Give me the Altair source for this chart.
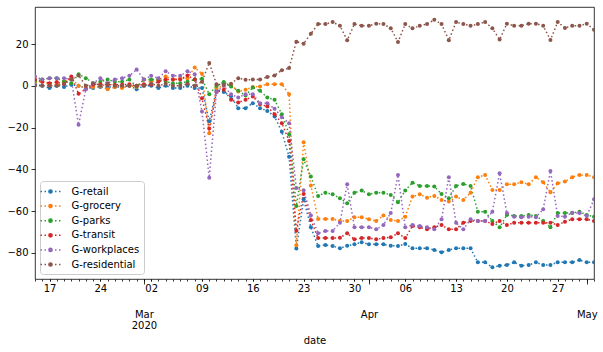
import altair as alt
import pandas as pd

dates = pd.date_range("2020-02-15", "2020-05-02", freq="D").strftime("%Y-%m-%dT00:00:00").tolist()

series_names = ["G-retail", "G-grocery", "G-parks", "G-transit", "G-workplaces", "G-residential"]
colors = ["#1f77b4", "#ff7f0e", "#2ca02c", "#d62728", "#9467bd", "#8c564b"]

retail = [0.8, 0, -1, 0, -0.5, 0.5, 0, -1, -1, -0.5,
          -0.5, -0.5, -0.5, 0, -1.6, 0, 0, -1, 0, -1,
          -1, 0, -1, -1, -17, -2, -3, -5, -10.7, -10.7,
          -8.3, -10.7, -12, -14.7, -22, -34, -78, -54.4, -67.8, -76.8,
          -76.3, -76.8, -77.9, -76.6, -76, -75, -76, -76, -76, -76.6,
          -76.8, -75.8, -77.9, -77.9, -77.9, -78.7, -79.8, -78.7, -77.9, -77.9,
          -77.9, -84.6, -84.6, -87, -86.2, -85.9, -84.6, -86.2, -85.9, -84.6,
          -85.9, -85.9, -84.6, -84.6, -84.6, -83.5, -84.6, -84.6]
grocery = [1.8, 2, 0.5, 0.5, 1.8, 3.7, 0, -1, -0.5, -0.3,
           -1.6, -0.5, -1, 0, -0.5, 3, 2, 3, 4.5, 3,
           3.7, 3.7, 8.8, 5.8, -22.7, -1, 0, 0.5, -2.7, -1.9,
           -0.5, -0.3, 0.8, 0.8, 0.8, -4, -76.4, -27, -47.8, -63.8,
           -63.8, -63.8, -64.8, -64.8, -63, -63, -64, -64.8, -62.2, -64.3,
           -64.8, -62.7, -53.1, -52, -53.6, -52.8, -54.7, -55.5, -53.1, -54.7,
           -51.2, -43.8, -42.7, -49.9, -49.9, -47.2, -47.2, -46.2, -47.2, -43.8,
           -46.2, -51, -46.7, -45.9, -43.8, -42.7, -42.7, -43.8]
parks = [2.4, 3, 3.7, 3.7, 2, 1.3, 5.6, 3.7, 1.3, 2,
         3, 2, 2, 3, -0.3, 3, 3, 3, 2, 1.3,
         1.3, 2, 3, 3.4, -4, 0, 1.8, -0.3, -2.4, -4.6,
         -0.8, -2.4, -5.6, -6.7, -13.6, -23.2, -57.6, -35.2, -43.5, -52.8,
         -51.2, -52, -53.9, -56.3, -51.2, -50.2, -52, -51.2, -51.2, -52.3,
         -55.8, -50.2, -46.4, -48, -48, -48.3, -51.8, -53.9, -48, -47,
         -48, -60.3, -60.3, -64.8, -67.8, -61.9, -62.4, -62.4, -61.9, -62.4,
         -64.8, -67.8, -61, -61, -61, -60.3, -61.9, -62.7]
transit = [3, 2, 1.3, 1.8, 0.8, 4.5, -3.8, -1.6, 0.5, 0.8,
           0.5, 0.5, 0.5, 0.8, 0, 0.8, 0.5, 2, 3, 3,
           3, 5, 3, -5.9, -20.5, -3, -1.9, -6.7, -8, -6.7,
           -5.1, -8.8, -9.9, -13.6, -17.9, -26.4, -69.5, -51.8, -64.3, -73,
           -73, -73, -72.8, -70.7, -73.6, -73, -73, -73.6, -73, -72.6,
           -70.7, -73, -67.2, -67.8, -68.8, -67.8, -66.7, -68.8, -68.8, -65.6,
           -64.8, -64.8, -64.8, -66.2, -64.8, -66.7, -65.6, -65.6, -65.6, -65.6,
           -65.6, -65.6, -66.7, -65.1, -64, -64, -64, -64.8]
workplaces = [4.5, 3, 3.7, 3.7, 3.7, 3, -18.7, -1.6, 1.3, 3.7,
              1.3, 3, 3.7, 4.8, 7.8, 3, 4.8, 3.7, 7, 4.8,
              4.8, 7, 5.6, -12.3, -44, -3, 0, -4, -5.6, -4,
              -4, -8.3, -8.3, -11, -15, -17.9, -49, -50, -62, -70.7,
              -69.6, -69.6, -65.6, -47.2, -67.8, -67.8, -67.8, -68.8, -66.7, -61,
              -42.7, -67.8, -66.7, -67.2, -67.8, -68.8, -64, -43.8, -65.6, -68.8,
              -64, -64.8, -64.8, -60.3, -41.9, -61, -62.7, -63, -62.7, -63,
              -59.2, -40.8, -62.4, -62.7, -60.8, -61, -62.4, -54.4]
residential = [0, 0, 0, 0, 1, 3, 5, 0, 1, 0,
               1, 0, 0, 0, 0, 0, 1, 0, 1, 0,
               0, 1, 0, 2, 11, 0.8, 0.5, 1, 3.7, 2.9,
               3, 3, 4.3, 5, 7.5, 8.5, 21.2, 20.2, 25, 29.6,
               29.6, 30.6, 28.8, 21.9, 29.6, 28.8, 28.8, 29.8, 29.6, 27.6,
               21, 29.6, 27.6, 28.8, 29.6, 31.7, 29.6, 21.9, 30.6, 29.6,
               28.8, 29.6, 30.6, 27.6, 22.2, 29.8, 28.8, 28.8, 29.8, 29.8,
               28.8, 22, 30.6, 27.7, 28.8, 28.8, 29.8, 26.9]

y_ticks = [-80, -60, -40, -20, 0, 20]
week_ticks = ["2020-02-17", "2020-02-24", "2020-03-02", "2020-03-09", "2020-03-16",
              "2020-03-23", "2020-03-30", "2020-04-06", "2020-04-13", "2020-04-20", "2020-04-27"]
month_ticks = ["2020-03-01", "2020-04-01", "2020-05-01"]

all_series = [retail, grocery, parks, transit, workplaces, residential]
rows = []
for name, vals in zip(series_names, all_series):
    assert len(vals) == len(dates), (name, len(vals))
    for d, v in zip(dates, vals):
        rows.append({"date": d, "series": name, "value": v})
df = pd.DataFrame(rows)


def dt(s):
    y, m, d = [int(p) for p in s.split("-")]
    return alt.DateTime(year=y, month=m, date=d)


xscale = alt.Scale(domain=[dt("2020-02-15"), dt("2020-05-02")], nice=False)

# legend handle: dotted segment with a dot marker (unit = 5 px)
legend_path = ("M-2,0L-1.7,0M-1.2,0L-0.9,0M-0.44,0L-0.24,0M0.24,0L0.44,0"
               "M0.9,0L1.2,0M1.7,0L2,0"
               "M0.32,0A0.32,0.32 0 1,1 -0.32,0A0.32,0.32 0 1,1 0.32,0Z"
               "M0.1,0A0.1,0.1 0 1,1 -0.1,0A0.1,0.1 0 1,1 0.1,0Z")

lines = alt.Chart(df).mark_line(
    strokeDash=[1.5, 2.5], strokeWidth=1.5, clip=True,
    point=alt.OverlayMarkDef(filled=True, size=16, clip=True, opacity=1),
).encode(
    x=alt.X("date:T", scale=xscale,
            axis=alt.Axis(values=[dt(s) for s in week_ticks], format="%d", tickSize=2,
                          labelPadding=2, title="date", titlePadding=42, orient="bottom",
                          grid=False, domain=False, labelFlush=False, labelOverlap=False)),
    y=alt.Y("value:Q", scale=alt.Scale(domain=[-92.6, 37.8], nice=False, zero=False),
            axis=alt.Axis(values=y_ticks, labelExpr="replace(datum.label, '-', '\u2212')",
                          grid=False, tickSize=4, labelPadding=3, title=None, domain=False)),
    color=alt.Color("series:N", scale=alt.Scale(domain=series_names, range=colors),
                    legend=alt.Legend(title=None, orient="none", legendX=5, legendY=174,
                                      symbolType=legend_path, symbolSize=100,
                                      symbolStrokeWidth=1.5, labelFontSize=10,
                                      labelFont="DejaVu Sans", labelColor="black",
                                      padding=4.5, rowPadding=3.6, labelOffset=15,
                                      strokeColor="#cccccc", cornerRadius=3,
                                      fillColor="rgba(255,255,255,0.8)")),
)

months = alt.Chart(df).mark_point(opacity=0).encode(
    x=alt.X("date:T", scale=xscale,
            axis=alt.Axis(values=[dt(s) for s in month_ticks],
                          labelExpr="month(datum.value) == 2 ? ['Mar', '2020'] : timeFormat(datum.value, '%b')",
                          tickSize=5, labelPadding=25, labelLineHeight=11, title=None,
                          orient="bottom", grid=False, domain=False, labelFlush=False,
                          labelOverlap=False)),
)

days = alt.Chart(df).mark_point(opacity=0).encode(
    x=alt.X("date:T", scale=xscale,
            axis=alt.Axis(tickCount={"interval": "day", "step": 1}, labels=False, tickSize=2,
                          title=None, orient="bottom", grid=False, domain=False)),
)

chart = alt.layer(lines, months, days).resolve_axis(x="independent").properties(
    width=559, height=272,
    padding={"left": 35, "top": 7, "right": 9, "bottom": 73},
    autosize=alt.AutoSizeParams(type="none"),
).configure_view(
    stroke="black", strokeWidth=0.8
).configure_axis(
    labelFont="DejaVu Sans", labelFontSize=10, labelColor="black",
    tickColor="black", tickWidth=0.8,
    titleFont="DejaVu Sans", titleFontSize=10, titleFontWeight="normal", titleColor="black",
)

chart.save("out.html", embed_options={"renderer": "svg", "actions": False})
